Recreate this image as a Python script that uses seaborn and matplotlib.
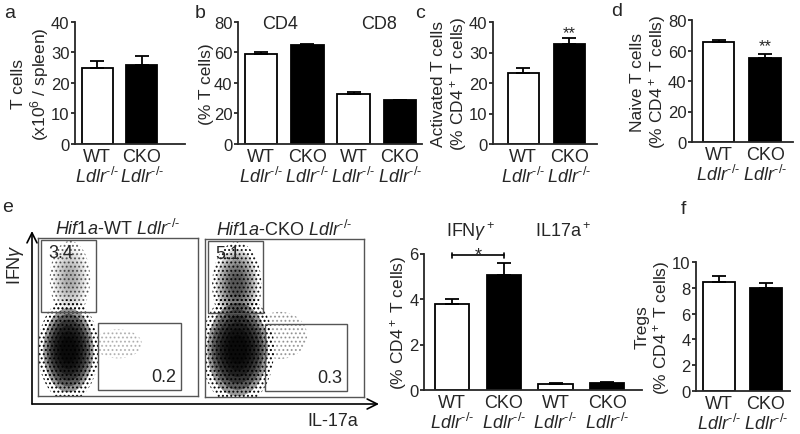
import numpy as np
import matplotlib
matplotlib.use('Agg')
import matplotlib.pyplot as plt
from matplotlib.patches import Ellipse, Rectangle
import seaborn as sns

# a: T cells per spleen
a_groups = ['WT', 'CKO']
a_means = [25.0, 25.7]
a_errs = [2.3, 3.1]

# b: CD4 / CD8 share of T cells
b_groups = ['CD4 WT', 'CD4 CKO', 'CD8 WT', 'CD8 CKO']
b_geno = ['WT', 'CKO', 'WT', 'CKO']
b_means = [59.0, 64.5, 33.0, 28.5]
b_errs = [1.0, 0.6, 0.8, 0.5]

# c: activated CD4 T cells
c_means = [23.3, 32.8]
c_errs = [1.5, 1.8]

# d: naive CD4 T cells
d_means = [65.5, 55.0]
d_errs = [1.5, 2.5]

# e: IFNg+ / IL17a+ CD4 T cells
e_groups = ['IFNg WT', 'IFNg CKO', 'IL17a WT', 'IL17a CKO']
e_geno = ['WT', 'CKO', 'WT', 'CKO']
e_means = [3.78, 5.05, 0.27, 0.31]
e_errs = [0.24, 0.52, 0.03, 0.03]

# f: Tregs
f_means = [8.45, 7.98]
f_errs = [0.45, 0.37]

# flow plots (display units 0-1000): gates and percentages
ifng_gate = [20, 530, 365, 985]
il17_gate = [375, 35, 895, 465]
wt_pcts = ['3.4', '0.2']
cko_pcts = ['5.1', '0.3']
# populations: centre x, centre y, width, height, fill density, dot density
wt_pops = [(190, 290, 330, 560, 1.0, 1.0), (200, 740, 220, 420, 0.15, 0.55),
           (500, 330, 260, 160, 0.0, 0.25)]
cko_pops = [(205, 300, 400, 620, 1.0, 1.0), (200, 710, 270, 470, 0.4, 0.9),
            (470, 390, 300, 260, 0.0, 0.35)]

sns.set_style('ticks')
plt.rcParams['font.family'] = ['Liberation Sans', 'DejaVu Sans']
plt.rcParams['mathtext.fontset'] = 'custom'
plt.rcParams['mathtext.rm'] = 'Liberation Sans'
plt.rcParams['mathtext.it'] = 'Liberation Sans:italic'
plt.rcParams['mathtext.bf'] = 'Liberation Sans:bold'
plt.rcParams['hatch.linewidth'] = 0.9

LDLR = r'$\mathit{Ldlr}^{\text{-/-}}$'
CD4_LABEL = '(% CD4$^+$ T cells)'

fig = plt.figure(figsize=(8, 4.35), dpi=100)


def px_axes(x0, y0, x1, y1):
    return fig.add_axes([x0 / 800, 1 - y1 / 435, (x1 - x0) / 800, (y1 - y0) / 435])


def bar_panel(ax, groups, geno, means, errs, ymax, yticks, xlim, width, ylabel):
    n = len(groups)
    colors = ['white' if g == 'WT' else 'black' for g in geno]
    sns.barplot(x=groups, y=means, hue=groups, palette=colors, width=width,
                saturation=1, edgecolor='black', linewidth=1.3, errorbar=None,
                legend=False, ax=ax)
    ax.errorbar(range(n), means, yerr=[[0] * n, errs], fmt='none', ecolor='black',
                elinewidth=1.3, capsize=5, capthick=1.3)
    ax.set_ylim(0, ymax)
    ax.set_yticks(yticks)
    ax.set_xlim(*xlim)
    ax.set_xticks(range(n))
    ax.set_xticklabels([f'{g}\n{LDLR}' for g in geno], fontsize=13, linespacing=1.05)
    ax.tick_params(axis='x', length=0, pad=3)
    ax.tick_params(axis='y', length=3, width=1.3, labelsize=12, pad=1)
    ax.set_xlabel('')
    ax.set_ylabel(ylabel, fontsize=12.5, linespacing=1.1, labelpad=0)
    sns.despine(ax=ax)
    for s in ['left', 'bottom']:
        ax.spines[s].set_linewidth(1.3)


ax_a = px_axes(75, 22.7, 185, 145)
bar_panel(ax_a, a_groups, a_groups, a_means, a_errs, 40, [0, 10, 20, 30, 40],
          (-0.5, 1.97), 0.7, 'T cells\n(x10$^6$ / spleen)')

ax_b = px_axes(238, 22.7, 422, 145)
bar_panel(ax_b, b_groups, b_geno, b_means, b_errs, 80, [0, 20, 40, 60, 80],
          (-0.5, 3.48), 0.7, '(% T cells)')
ax_b.text(0.4, 78.5, 'CD4', ha='center', va='center', fontsize=13)
ax_b.text(2.55, 78.5, 'CD8', ha='center', va='center', fontsize=13)

ax_c = px_axes(493, 23, 597, 145)
bar_panel(ax_c, a_groups, a_groups, c_means, c_errs, 40, [0, 10, 20, 30, 40],
          (-0.65, 1.6), 0.67, 'Activated T cells\n(% CD4$^+$ T cells)')
ax_c.text(1, 36.5, '**', ha='center', va='center', fontsize=12)

ax_d = px_axes(692, 21, 793, 143)
bar_panel(ax_d, a_groups, a_groups, d_means, d_errs, 80, [0, 20, 40, 60, 80],
          (-0.57, 1.6), 0.68, 'Naive T cells\n(% CD4$^+$ T cells)')
ax_d.text(1, 63, '**', ha='center', va='center', fontsize=12)

ax_e = px_axes(424, 254.5, 642, 391)
bar_panel(ax_e, e_groups, e_geno, e_means, e_errs, 6, [0, 2, 4, 6],
          (-0.54, 3.67), 0.66, CD4_LABEL)
ax_e.text(0.35, 7.0, r'IFN$\gamma$$^+$', ha='center', va='center', fontsize=13, clip_on=False)
ax_e.text(2.15, 7.0, 'IL17a$^+$', ha='center', va='center', fontsize=13, clip_on=False)
ax_e.plot([0, 1], [5.92, 5.92], color='black', lw=1.2, clip_on=False)
for xe in [0, 1]:
    ax_e.plot([xe, xe], [5.82, 6.02], color='black', lw=1.2, clip_on=False)
ax_e.text(0.5, 5.72, '*', ha='center', va='baseline', fontsize=13, clip_on=False)

ax_f = px_axes(696, 263, 790, 392)
bar_panel(ax_f, a_groups, a_groups, f_means, f_errs, 10, [0, 2, 4, 6, 8, 10],
          (-0.49, 1.51), 0.68, 'Tregs\n(% CD4$^+$ T cells)')

# flow cytometry dot plots
flow_specs = [
    ((38, 239, 198, 397), wt_pops, wt_pcts, r'$\mathit{Hif1a}$-WT $\mathit{Ldlr}^{\text{-/-}}$'),
    ((205, 240, 364, 398), cko_pops, cko_pcts, r'$\mathit{Hif1a}$-CKO $\mathit{Ldlr}^{\text{-/-}}$'),
]
for box, pops, pcts, title in flow_specs:
    ax = px_axes(*box)
    ax.set_xlim(0, 1000)
    ax.set_ylim(0, 1000)
    ax.set_xticks([])
    ax.set_yticks([])
    for s in ax.spines.values():
        s.set_color('#555555')
        s.set_linewidth(1.0)
    for cx, cy, w, h, fill, dots in pops:
        if fill > 0:
            for k in np.linspace(0.95, 0.3, 6):
                ax.add_patch(Ellipse((cx, cy), w * k, h * k, facecolor='black',
                                     alpha=0.4 * fill, lw=0))
        ax.add_patch(Ellipse((cx, cy), w * 1.15, h * 1.15, facecolor='none',
                             edgecolor='black', hatch='....', lw=0, alpha=dots))
    for g in [ifng_gate, il17_gate]:
        ax.add_patch(Rectangle((g[0], g[1]), g[2] - g[0], g[3] - g[1], fill=False,
                               edgecolor='#555555', lw=1.0, zorder=5))
    ax.text(ifng_gate[0] + 45, ifng_gate[3] - 25, pcts[0], ha='left', va='top',
            fontsize=13, zorder=6)
    ax.text(il17_gate[2] - 30, il17_gate[1] + 35, pcts[1], ha='right', va='bottom',
            fontsize=13, zorder=6)
    ax.set_title(title, fontsize=13, pad=3)

# overlay for axis arrows, flow labels and panel letters (pixel coordinates)
ov = fig.add_axes([0, 0, 1, 1])
ov.set_xlim(0, 800)
ov.set_ylim(435, 0)
ov.axis('off')
ov.annotate('', xy=(32, 232), xytext=(32, 405),
            arrowprops=dict(arrowstyle='->', lw=1.2, color='black', mutation_scale=18,
                            shrinkA=0, shrinkB=0))
ov.annotate('', xy=(379, 405), xytext=(32, 405),
            arrowprops=dict(arrowstyle='->', lw=1.2, color='black', mutation_scale=18,
                            shrinkA=0, shrinkB=0))
ov.text(15, 265, r'IFN$\gamma$', rotation=90, ha='center', va='center', fontsize=13)
ov.text(333, 422, 'IL-17a', ha='center', va='center', fontsize=13)
for letter, (lx, ly) in zip('abcdef', [(10, 14), (200, 14), (420, 14), (617, 12), (8, 208), (683, 210)]):
    ov.text(lx, ly, letter, ha='center', va='center', fontsize=14)

fig.savefig('out.png', dpi=100)
